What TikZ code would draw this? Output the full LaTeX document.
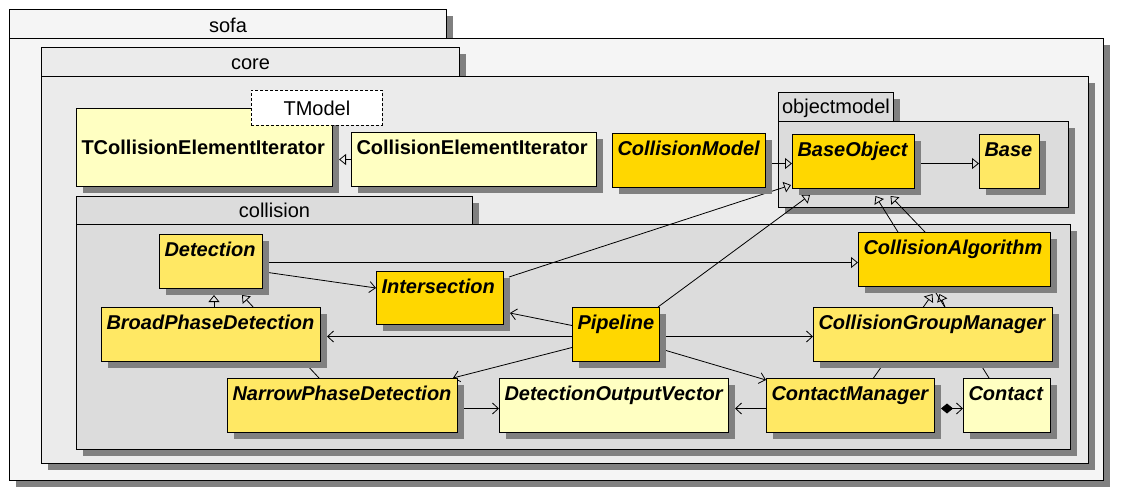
\documentclass[tikz,border=0pt]{standalone}
\usepackage{fontspec}
\setmainfont{Liberation Sans}
\usetikzlibrary{arrows.meta,shadows,calc}
\hyphenpenalty=10000
\exhyphenpenalty=10000
\definecolor{gold}{HTML}{FFD700}
\definecolor{yel}{HTML}{FFE864}
\definecolor{pale}{HTML}{FFFFC2}
\definecolor{shgray}{HTML}{808080}
\definecolor{sofabg}{HTML}{F5F5F5}
\definecolor{corebg}{HTML}{EBEBEB}
\definecolor{colbg}{HTML}{DCDCDC}
\pgfdeclarelayer{pkg}
\pgfdeclarelayer{edges}
\pgfsetlayers{pkg,edges,main}
\tikzset{
  fnt/.style={font=\fontsize{20}{24}\selectfont},
  shd/.style={drop shadow={shadow xshift=6pt,shadow yshift=-6pt,fill=shgray,opacity=1}},
  pkgtab/.style={fnt, draw, line width=1pt, anchor=north west, inner sep=0pt, align=center, shd},
  pkgbody/.style={draw, line width=1pt, anchor=north west, inner sep=0pt, shd},
  cls/.style={draw, line width=1pt, anchor=north west, inner xsep=5pt, inner ysep=0pt, align=left, text height=22pt, text depth=32pt, shd},
  abs/.style={cls, font=\fontsize{20}{24}\selectfont\bfseries\itshape},
  conc/.style={cls, font=\fontsize{20}{24}\selectfont\bfseries},
  conn/.style={line width=0.8pt},
  inh/.style={conn, -{Triangle[open,length=7pt,width=11pt]}},
  assoc/.style={conn, -{Straight Barb[length=6pt,width=11pt]}},
  comp/.style={conn, {Diamond[length=12pt,width=10pt]}-{Straight Barb[length=6pt,width=11pt]}},
}
\begin{document}
\begin{tikzpicture}[x=1pt,y=-1pt]
\useasboundingbox (0,0) rectangle (1122,498);
\begin{pgfonlayer}{pkg}
\fill[white] (0,0) rectangle (1122,498);
\node[pkgtab, fill=sofabg, text width=437pt, text height=23pt, text depth=6pt] (sofatab) at (9,9) {sofa};
\node[pkgbody, fill=sofabg, minimum width=1094pt, minimum height=442pt] (sofa) at (9,38) {};
\node[pkgtab, fill=corebg, text width=418pt, text height=21.5pt, text depth=7.5pt] (coretab) at (41,47) {core};
\node[pkgbody, fill=corebg, minimum width=1047pt, minimum height=387pt] (core) at (41,76) {};
\node[pkgtab, fill=colbg, text width=115pt, text height=21pt, text depth=8pt] (omtab) at (778,92) {objectmodel};
\node[pkgbody, fill=colbg, minimum width=290pt, minimum height=86pt] (om) at (778,121) {};
\node[pkgtab, fill=colbg, text width=396pt, text height=21pt, text depth=7pt] (coltab) at (76,196) {collision};
\node[pkgbody, fill=colbg, minimum width=994pt, minimum height=225pt] (col) at (76,224) {};
\end{pgfonlayer}

\node[conc, fill=pale, text width=246pt, text height=46pt, text depth=32pt] (tcei) at (76,108) {TCollisionElementIterator};
\node[draw, dash pattern=on 3pt off 2pt, line width=0.8pt, fill=white, fnt, anchor=north west, inner sep=0pt, text width=131pt, align=center, text height=25pt, text depth=10pt] (tmodel) at (251,90) {TModel};
\node[conc, fill=pale, text width=235pt] (cei) at (351,132) {CollisionElementIterator};
\node[abs, fill=gold, text width=143pt] (cm) at (612,133) {CollisionModel};
\node[abs, fill=gold, text width=112pt] (bo) at (792,134) {BaseObject};
\node[abs, fill=yel, text width=50pt] (base) at (979,134) {Base};
\node[abs, fill=yel, text width=93pt] (det) at (159,234) {Detection};
\node[abs, fill=gold, text width=117pt, text depth=31pt] (inter) at (376,271) {Intersection};
\node[abs, fill=yel, text width=209pt] (bpd) at (101,307) {BroadPhaseDetection};
\node[abs, fill=gold, text width=77pt] (pipe) at (572,307) {Pipeline};
\node[abs, fill=gold, text width=182pt] (calg) at (858,232) {CollisionAlgorithm};
\node[abs, fill=yel, text width=229pt] (cgm) at (813,307) {CollisionGroupManager};
\node[abs, fill=yel, text width=220pt] (npd) at (227,378) {NarrowPhaseDetection};
\node[abs, fill=pale, text width=219pt] (dov) at (499,378) {DetectionOutputVector};
\node[abs, fill=yel, text width=158pt] (cmgr) at (766,378) {ContactManager};
\node[abs, fill=pale, text width=77pt] (contact) at (963,378) {Contact};

\begin{pgfonlayer}{edges}
\draw[inh] (cei.west) -- ($(tcei.east)+(6,12)$);
\draw[inh] ($(cm.east)+(6,3)$) -- ($(bo.west)+(0,2)$);
\draw[inh] ($(bo.east)+(6,2)$) -- ($(base.west)+(0,2)$);
\draw[inh] ($(inter.north east)+(5,6)$) -- ($(bo.south west)+(-1,-4)$);
\draw[inh] ($(pipe.north east)+(-2,0)$) -- ($(bo.south west)+(18,6)$);
\draw[inh] ($(calg.north west)+(67,0)$) -- ($(bo.south)+(37,7)$);
\draw[inh] ($(contact.north)+(-18,0)$) -- ($(bo.south)+(22,7)$);
\draw[inh] ($(det.east)+(6,1)$) -- ($(det.east -| calg.west)+(0,1)$);
\draw[assoc] ($(det.east)+(5,11)$) -- ($(inter.west)+(0,-10)$);
\draw[assoc] ($(pipe.west)+(0,-9)$) -- ($(inter.east)+(6,15)$);
\draw[assoc] ($(pipe.west)+(0,2)$) -- ($(pipe.west -| bpd.east)+(6,2)$);
\draw[assoc] ($(pipe.west)+(0,13)$) -- ($(npd.north east)+(-5,0)$);
\draw[assoc] ($(pipe.east)+(6,2)$) -- ($(pipe.east -| cgm.west)+(0,2)$);
\draw[assoc] ($(pipe.east)+(6,16)$) -- ($(cmgr.north west)+(0,2)$);
\draw[assoc] ($(npd.east)+(6,3)$) -- ($(npd.east -| dov.west)+(0,3)$);
\draw[assoc] ($(cmgr.west)+(0,3)$) -- ($(cmgr.west -| dov.east)+(6,3)$);
\draw[comp] ($(cmgr.east)+(6,3)$) -- ($(cmgr.east -| contact.west)+(0,3)$);
\draw[inh] ($(bpd.north)+(3,0)$) -- ($(det.south)+(3,6)$);
\draw[inh] ($(npd.north west)+(92,0)$) -- ($(det.south)+(31,6)$);
\draw[inh] ($(cmgr.north)+(23,0)$) -- ($(calg.south)+(-22,7)$);
\draw[inh] ($(cgm.north)+(12,0)$) -- ($(calg.south)+(-15,7)$);
\end{pgfonlayer}
\end{tikzpicture}
\end{document}
